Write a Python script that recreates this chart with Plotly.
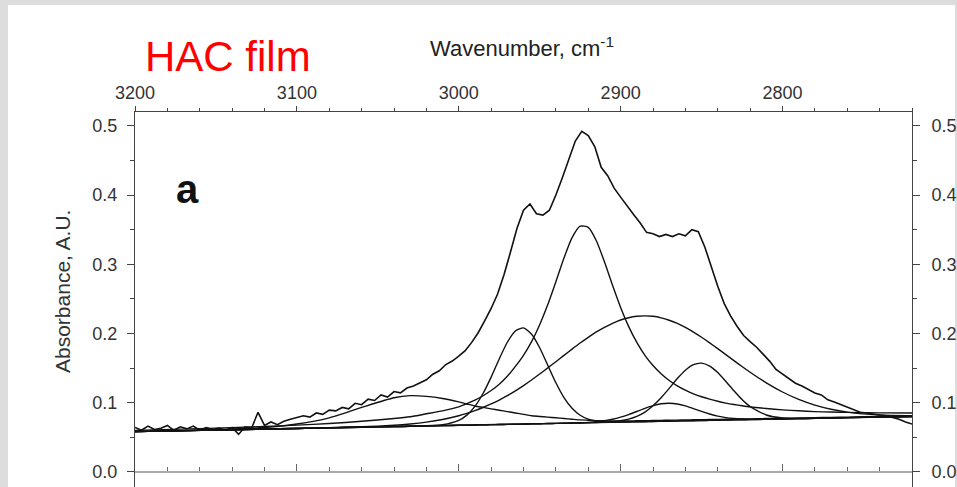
import plotly.graph_objects as go

# ---------------- data ----------------
# measured spectrum (absorbance, A.U.), sampled every 4 cm-1 from 3200 to 2720
spec_wn = list(range(3200, 2719, -4))
spec_abs = [
    0.064, 0.060, 0.066, 0.061, 0.063, 0.067, 0.060, 0.065, 0.062, 0.066,
    0.060, 0.064, 0.061, 0.063, 0.060, 0.064, 0.054, 0.065, 0.063, 0.086,
    0.067, 0.072, 0.068, 0.073, 0.076, 0.078, 0.081, 0.079, 0.085, 0.083,
    0.089, 0.088, 0.093, 0.091, 0.099, 0.097, 0.105, 0.103, 0.111, 0.108,
    0.116, 0.114, 0.121, 0.124, 0.129, 0.133, 0.141, 0.146, 0.155, 0.160,
    0.167, 0.175, 0.187, 0.201, 0.218, 0.236, 0.257, 0.285, 0.318, 0.352,
    0.378, 0.387, 0.373, 0.371, 0.378, 0.400, 0.425, 0.452, 0.478, 0.492,
    0.486, 0.470, 0.440, 0.428, 0.410, 0.397, 0.384, 0.372, 0.360, 0.346,
    0.344, 0.340, 0.343, 0.340, 0.344, 0.341, 0.350, 0.347, 0.325, 0.296,
    0.268, 0.243, 0.225, 0.210, 0.197, 0.188, 0.180, 0.170, 0.160, 0.148,
    0.141, 0.135, 0.128, 0.124, 0.119, 0.114, 0.111, 0.104, 0.101, 0.097,
    0.094, 0.090, 0.086, 0.085, 0.083, 0.082, 0.081, 0.079, 0.076, 0.072,
    0.069,
]
assert len(spec_wn) == len(spec_abs)

# fitted components (baseline included)
comp_wn = [3200, 3160, 3120, 3100, 3080, 3060, 3040, 3030, 3020, 3010,
           3000, 2995, 2990, 2985, 2980, 2975, 2970, 2965, 2960, 2955,
           2950, 2945, 2940, 2935, 2930, 2925, 2920, 2915, 2910, 2905,
           2900, 2895, 2890, 2885, 2880, 2875, 2870, 2865, 2860, 2855,
           2850, 2845, 2840, 2835, 2830, 2825, 2820, 2810, 2800, 2790,
           2780, 2770, 2760, 2740, 2720]

band_3035 = [0.058, 0.060, 0.064, 0.069, 0.078, 0.093, 0.107, 0.110, 0.109, 0.106,
             0.101, 0.098, 0.095, 0.093, 0.091, 0.089, 0.087, 0.085, 0.083, 0.081,
             0.080, 0.079, 0.078, 0.077, 0.076, 0.075, 0.0745, 0.074, 0.0737, 0.0735,
             0.0734, 0.0735, 0.0737, 0.0739, 0.0741, 0.0743, 0.0745, 0.0747, 0.0749, 0.0751,
             0.0753, 0.0755, 0.0757, 0.0759, 0.0761, 0.0763, 0.0765, 0.0769, 0.0773, 0.0777,
             0.0781, 0.0786, 0.079, 0.0799, 0.0808]

band_2961 = [0.058, 0.0598, 0.0617, 0.0626, 0.0635, 0.0644, 0.0653, 0.0658, 0.0664, 0.068,
             0.0743, 0.0819, 0.0945, 0.1131, 0.1368, 0.1631, 0.1872, 0.2035, 0.208, 0.1988,
             0.1793, 0.154, 0.1286, 0.1072, 0.0917, 0.0817, 0.076, 0.0733, 0.0721, 0.0715,
             0.0718, 0.072, 0.0722, 0.0724, 0.0727, 0.0729, 0.0731, 0.0734, 0.0736, 0.0738,
             0.074, 0.0743, 0.0745, 0.0747, 0.075, 0.0752, 0.0754, 0.0759, 0.0763, 0.0768,
             0.0772, 0.0777, 0.0782, 0.0791, 0.080]

band_2923 = [0.0599, 0.0624, 0.0654, 0.0675, 0.0697, 0.073, 0.0769, 0.0795, 0.0838, 0.0881,
             0.0938, 0.0984, 0.1036, 0.1099, 0.1174, 0.1266, 0.138, 0.1524, 0.1684, 0.1881,
             0.2125, 0.2416, 0.2747, 0.3089, 0.3384, 0.355, 0.3533, 0.334, 0.3035, 0.2695,
             0.2375, 0.2098, 0.1869, 0.1683, 0.1536, 0.1417, 0.132, 0.1243, 0.118, 0.1127,
             0.1084, 0.1049, 0.1019, 0.0993, 0.0972, 0.0954, 0.0938, 0.0914, 0.0895, 0.0881,
             0.087, 0.0863, 0.0858, 0.0852, 0.085]

band_2886 = [0.058, 0.0598, 0.0617, 0.0626, 0.0636, 0.065, 0.0672, 0.0691, 0.0718, 0.0756,
             0.081, 0.0844, 0.0883, 0.0929, 0.098, 0.1037, 0.11, 0.117, 0.1246, 0.1326,
             0.1413, 0.1501, 0.1591, 0.1682, 0.1773, 0.1861, 0.1943, 0.2021, 0.2088, 0.2146,
             0.2194, 0.2227, 0.2247, 0.2254, 0.2247, 0.2225, 0.219, 0.2144, 0.2086, 0.2019,
             0.1944, 0.1864, 0.178, 0.1693, 0.1607, 0.1521, 0.1438, 0.1285, 0.1153, 0.1046,
             0.0964, 0.0904, 0.0863, 0.0821, 0.0809]

band_2851 = [0.058, 0.0598, 0.0617, 0.0626, 0.0635, 0.0644, 0.0653, 0.0658, 0.0663, 0.0667,
             0.0672, 0.0674, 0.0676, 0.0679, 0.0681, 0.0683, 0.0685, 0.0688, 0.069, 0.0692,
             0.0695, 0.0697, 0.0699, 0.0701, 0.0704, 0.0706, 0.0709, 0.0712, 0.0717, 0.0724,
             0.0738, 0.0762, 0.0801, 0.0863, 0.0954, 0.107, 0.1206, 0.1347, 0.1468, 0.1548,
             0.157, 0.1528, 0.1434, 0.1306, 0.117, 0.1044, 0.0942, 0.0821, 0.0778, 0.0771,
             0.0772, 0.0777, 0.0782, 0.0791, 0.080]

band_2871 = [0.058, 0.0598, 0.0617, 0.0626, 0.0635, 0.0644, 0.0653, 0.0658, 0.0663, 0.0667,
             0.0672, 0.0674, 0.0676, 0.0679, 0.0681, 0.0683, 0.0685, 0.0688, 0.069, 0.0692,
             0.0695, 0.0697, 0.070, 0.0702, 0.0705, 0.0709, 0.0714, 0.0723, 0.0738, 0.0759,
             0.0789, 0.0827, 0.0871, 0.0916, 0.0956, 0.0983, 0.0991, 0.098, 0.0952, 0.0913,
             0.0872, 0.0835, 0.0804, 0.0782, 0.0769, 0.0762, 0.0759, 0.0759, 0.0763, 0.0768,
             0.0772, 0.0777, 0.0782, 0.0791, 0.080]

baseline_wn = [3200, 2720]
baseline_abs = [0.058, 0.080]

for comp in (band_3035, band_2961, band_2923, band_2886, band_2851, band_2871):
    assert len(comp) == len(comp_wn)

x_range = [3200, 2720]
y_range = [-0.022, 0.52]

# ---------------- figure ----------------
W, H = 957, 487
ML, MR, MT, MB = 135, 45, 112, 0
PW, PH = W - ML - MR, H - MT - MB

def px_x(px):
    return (px - ML) / PW

def px_y(py):
    return (H - MB - py) / PH

LINE = "#111111"
AX = "#444444"
FONT = "Liberation Sans, Arial, sans-serif"

fig = go.Figure()

fig.add_trace(go.Scatter(x=baseline_wn, y=baseline_abs, mode="lines", xaxis="x2", yaxis="y",
                         line=dict(color=LINE, width=1.4), hoverinfo="skip"))
comps = [band_3035, band_2961, band_2923, band_2886, band_2851, band_2871]
for i, comp in enumerate(comps):
    fig.add_trace(go.Scatter(x=comp_wn, y=comp, mode="lines",
                             yaxis="y2" if i == len(comps) - 1 else "y",
                             line=dict(color=LINE, width=1.4, shape="spline", smoothing=0.6),
                             hoverinfo="skip"))
fig.add_trace(go.Scatter(x=spec_wn, y=spec_abs, mode="lines",
                         line=dict(color=LINE, width=1.6), hoverinfo="skip"))

tickfont = dict(family=FONT, size=18, color="#333333")

fig.update_layout(
    width=W, height=H,
    margin=dict(l=ML, r=MR, t=MT, b=MB, pad=0, autoexpand=False),
    paper_bgcolor="#dddddd",
    plot_bgcolor="white",
    showlegend=False,
    xaxis=dict(range=x_range, side="top", tickmode="linear", tick0=3200, dtick=100,
               ticks="outside", ticklen=5, tickwidth=1, tickcolor=AX, automargin=False,
               showline=True, linecolor=AX, linewidth=1, showgrid=False, zeroline=False,
               tickfont=tickfont, ticklabelstandoff=0,
               minor=dict(ticks="outside", ticklen=3, dtick=20, tick0=3200, tickcolor=AX,
                          showgrid=False)),
    xaxis2=dict(range=x_range, overlaying="x", anchor="free", position=px_y(471.7), side="bottom",
                tickmode="linear", tick0=3200, dtick=100, automargin=False,
                ticks="inside", ticklen=7, tickwidth=1, tickcolor="#666666",
                showline=True, linecolor="#aaaaaa", linewidth=1.5, showgrid=False, zeroline=False,
                showticklabels=False,
                minor=dict(ticks="inside", ticklen=4, dtick=20, tick0=3200, tickcolor="#666666",
                           showgrid=False)),
    yaxis=dict(range=y_range, tickmode="linear", tick0=0, dtick=0.1, tickformat=".1f",
               ticks="outside", ticklen=7, tickwidth=1, tickcolor=AX, automargin=False,
               showline=True, linecolor=AX, linewidth=1, showgrid=False, zeroline=False,
               tickfont=tickfont, ticklabelstandoff=6,
               minor=dict(ticks="outside", ticklen=4, dtick=0.05, tick0=0, tickcolor=AX,
                          showgrid=False)),
    yaxis2=dict(range=y_range, overlaying="y", side="right", anchor="x",
                tickmode="linear", tick0=0, dtick=0.1, tickformat=".1f", automargin=False,
                ticks="outside", ticklen=7, tickwidth=1, tickcolor=AX,
                showline=True, linecolor=AX, linewidth=1, showgrid=False, zeroline=False,
                tickfont=tickfont, ticklabelstandoff=8,
                minor=dict(ticks="outside", ticklen=4, dtick=0.05, tick0=0, tickcolor=AX,
                           showgrid=False)),
    shapes=[dict(type="rect", xref="paper", yref="paper", layer="below",
                 x0=px_x(8), x1=px_x(955), y0=-0.05, y1=px_y(5),
                 fillcolor="white", line=dict(width=0))],
    annotations=[
        dict(text="Wavenumber, cm<sup>-1</sup>", xref="paper", yref="paper",
             x=px_x(522), y=px_y(47), xanchor="center", yanchor="middle", showarrow=False,
             font=dict(family=FONT, size=22, color="#222222")),
        dict(text="HAC film", xref="paper", yref="paper",
             x=px_x(143), y=px_y(57), xanchor="left", yanchor="middle", showarrow=False,
             font=dict(family=FONT, size=42, color="#ff0000")),
        dict(text="<b>a</b>", xref="paper", yref="paper",
             x=px_x(174), y=px_y(189), xanchor="left", yanchor="middle", showarrow=False,
             font=dict(family=FONT, size=40, color="#111111")),
        dict(text="Absorbance, A.U.", xref="paper", yref="paper", textangle=-90,
             x=px_x(62), y=px_y(292), xanchor="center", yanchor="middle", showarrow=False,
             font=dict(family=FONT, size=21, color="#333333")),
    ],
)

fig.write_html("out.html", config={"displayModeBar": False},
               post_script="document.body.style.margin='0';document.body.style.padding='0';")
